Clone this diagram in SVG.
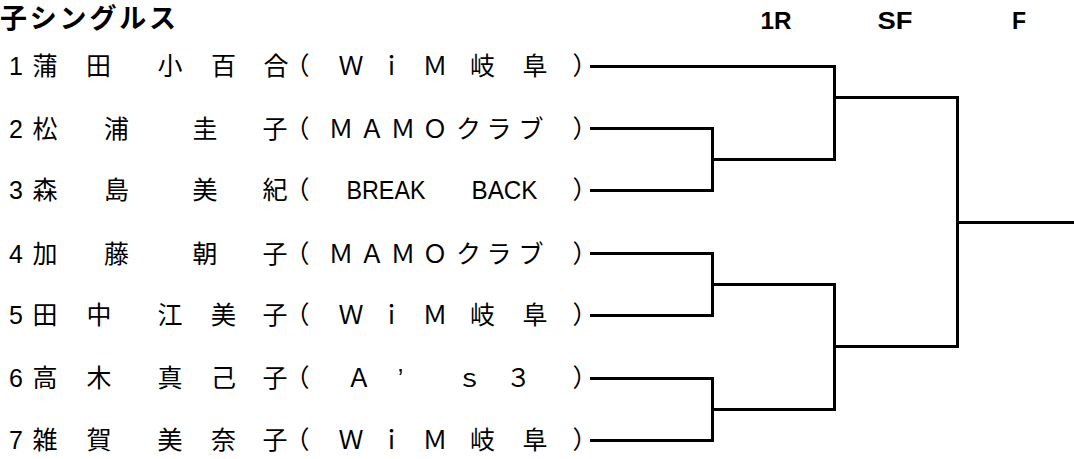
<svg xmlns="http://www.w3.org/2000/svg" width="1074" height="459" viewBox="0 0 1074 459">
<style>
.t{font-family:"Liberation Sans","Noto Sans CJK JP",sans-serif;font-size:25px;fill:#000;text-anchor:middle}
.h{font-family:"Liberation Sans","Noto Sans CJK JP",sans-serif;font-size:23px;font-weight:bold;fill:#000;text-anchor:middle}
.ttl{font-family:"Noto Sans CJK JP",sans-serif;font-size:27px;font-weight:bold;fill:#000}
.c{fill:none;stroke:#000;stroke-width:3;stroke-linejoin:miter;stroke-linecap:square}
</style>
<rect width="1074" height="459" fill="#fff"/>
<g id="title"><text class="ttl" x="0" y="28" textLength="176" lengthAdjust="spacing">子シングルス</text></g>
<g id="rounds">
<text class="h" x="776" y="29" textLength="31" lengthAdjust="spacingAndGlyphs">1R</text>
<text class="h" x="895" y="29" textLength="35" lengthAdjust="spacingAndGlyphs">SF</text>
<text class="h" x="1019" y="29">F</text>
</g>
<g id="p1"><text class="t" x="16 45 98.5 170 223.5 276 297 351 391.5 435 482.5 535 585" y="75">1蒲田小百合（ＷｉＭ岐阜）</text></g>
<g id="p2"><text class="t" x="16 45 116.5 205 275 297 341 372 403 435 468.5 499 531 585" y="137.5">2松浦圭子（ＭＡＭＯクラブ）</text></g>
<g id="p3"><text class="t" x="16 45 116.5 205 275 297" y="199">3森島美紀（</text><text class="t" x="386" y="199" textLength="79" lengthAdjust="spacingAndGlyphs">BREAK</text><text class="t" x="504.5" y="199" textLength="66" lengthAdjust="spacingAndGlyphs">BACK</text><text class="t" x="585" y="199">）</text></g>
<g id="p4"><text class="t" x="16 45 116.5 205 275 297 341 372 403 435 468.5 499 531 585" y="262.5">4加藤朝子（ＭＡＭＯクラブ）</text></g>
<g id="p5"><text class="t" x="16 45 99 170 223.5 275 297 351 391.5 435 482.5 535 585" y="324">5田中江美子（ＷｉＭ岐阜）</text></g>
<g id="p6"><text class="t" x="16 45 99 170 223.5 275 297 359 400.5 469.5 518.5 585" y="387">6高木真己子（Ａ’ｓ３）</text></g>
<g id="p7"><text class="t" x="16 45 99 170 223.5 275 297 351 391.5 435 482.5 535 585" y="449">7雑賀美奈子（ＷｉＭ岐阜）</text></g>
<g id="connectors">
<polyline class="c" points="591.5,66.5 834.5,66.5 834.5,159.5 712.5,159.5"/>
<polyline class="c" points="591.5,128.5 712.5,128.5 712.5,190.5 591.5,190.5"/>
<polyline class="c" points="591.5,253.5 712.5,253.5 712.5,315.5 591.5,315.5"/>
<polyline class="c" points="591.5,378.5 712.5,378.5 712.5,440.5 591.5,440.5"/>
<polyline class="c" points="712.5,284.5 834.5,284.5 834.5,409.5 712.5,409.5"/>
<line class="c" x1="834.5" y1="97.5" x2="957.5" y2="97.5"/>
<line class="c" x1="834.5" y1="346.5" x2="957.5" y2="346.5"/>
<line class="c" x1="957.5" y1="97.5" x2="957.5" y2="346.5"/>
<line class="c" x1="957.5" y1="222.5" x2="1074" y2="222.5"/>
</g>
</svg>
